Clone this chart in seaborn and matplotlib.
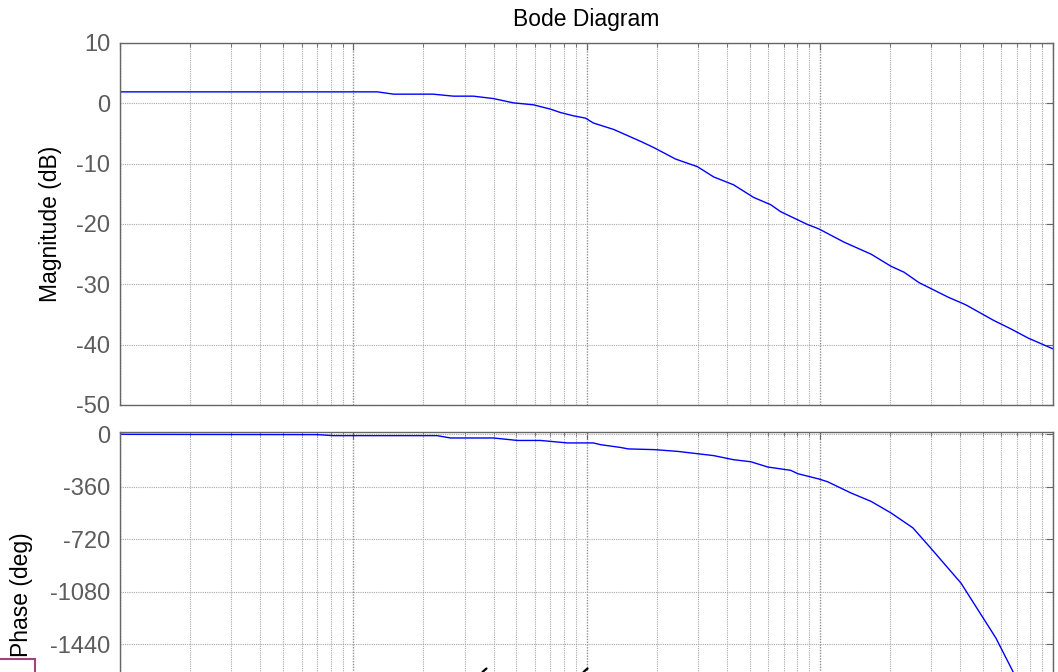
import matplotlib
matplotlib.use("Agg")
import matplotlib.pyplot as plt
import matplotlib.ticker as mticker
from matplotlib.patches import Rectangle
from matplotlib.lines import Line2D
import pandas as pd
import seaborn as sns

sns.set_style("white")
plt.rcParams["font.family"] = ["Liberation Sans", "DejaVu Sans"]
plt.rcParams["axes.unicode_minus"] = False

# ---- data (frequency in rad/s) ----
mag_freq = [0.1, 0.879, 1.27, 1.49, 2.20, 2.69, 3.27, 3.99, 4.86, 5.93, 7.00,
            7.73, 8.79, 9.9, 10.7, 13.1, 17.1, 19.4, 24.1, 29.9, 35.1, 42.7,
            52.1, 61.6, 68.0, 88.8, 99, 127, 166, 202, 230, 266, 354, 423,
            558, 661, 782, 1000]
mag_db = [1.9, 1.9, 1.9, 1.52, 1.52, 1.19, 1.19, 0.79, 0.08, -0.25, -0.96,
          -1.52, -2.07, -2.45, -3.26, -4.34, -6.32, -7.32, -9.24, -10.5, -12.2,
          -13.5, -15.6, -16.8, -17.96, -20.1, -20.8, -23.0, -25.0, -27.0, -28.0,
          -29.7, -32.1, -33.4, -36.0, -37.4, -38.9, -40.7]

phase_freq = [0.1, 0.110, 0.700, 0.821, 2.29, 2.61, 3.99, 5.06, 6.35, 8.28,
              10.7, 11.5, 14.0, 15.1, 19.6, 24.6, 35.1, 42.7, 50.6, 59.8, 75.1,
              80.5, 99, 108, 136, 166, 202, 251, 299, 403, 569, 673, 766]
phase_deg = [0, -1, -3, -10, -10, -26, -26, -43, -43, -60, -60, -72, -91,
             -101, -106, -118, -147, -175, -189, -225, -248, -271, -307, -326,
             -403, -461, -540, -643, -781, -1021, -1398, -1627, -1830]

mag_ticks = [10, 0, -10, -20, -30, -40, -50]
phase_ticks = [0, -360, -720, -1080, -1440]

mag_df = pd.DataFrame({"freq": mag_freq, "mag": mag_db})
phase_df = pd.DataFrame({"freq": phase_freq, "phase": phase_deg})

W, H = 1058, 672
fig = plt.figure(figsize=(W / 100, H / 100), dpi=100)

ax_mag = fig.add_axes([120 / W, 1 - 405 / H, 933 / W, 362 / H])
# bottom axes runs past the lower edge of the picture (cropped view)
ax_ph = fig.add_axes([120 / W, 1 - 432 / H - 264.6 / H, 933 / W, 264.6 / H])

grid_kw = dict(color="#a8a8a8", linestyle=(0, (1, 1)), linewidth=0.8)

for ax in (ax_mag, ax_ph):
    ax.set_xscale("log")
    ax.set_xlim(0.1, 1000)
    ax.xaxis.set_major_locator(mticker.LogLocator(base=10, numticks=10))
    ax.xaxis.set_minor_locator(mticker.LogLocator(base=10, subs=range(2, 10), numticks=10))
    ax.xaxis.set_major_formatter(mticker.NullFormatter())
    ax.xaxis.set_minor_formatter(mticker.NullFormatter())
    ax.grid(True, which="minor", axis="x", **grid_kw)
    ax.grid(True, which="major", axis="x", color="#909090",
            linestyle=(0, (1, 1)), linewidth=1.0)
    ax.grid(True, which="major", axis="y", **grid_kw)
    ax.tick_params(which="both", direction="in", top=True, right=True,
                   color="#666666", labelcolor="#5c5c5c", labelsize=17, pad=7)
    ax.tick_params(which="major", length=5)
    ax.tick_params(which="minor", length=3)
    for sp in ax.spines.values():
        sp.set_color("#666666")
        sp.set_linewidth(1.0)

sns.lineplot(data=mag_df, x="freq", y="mag", ax=ax_mag, color="#0000ff",
             linewidth=1.0, estimator=None)
ax_mag.set_ylim(-50, 10)
ax_mag.set_yticks(mag_ticks)
ax_mag.set_xlabel("")
ax_mag.set_ylabel("Magnitude (dB)", fontsize=16.5, color="black")
ax_mag.yaxis.set_label_coords(-0.062, 0.5)
ax_mag.set_title("Bode Diagram", fontsize=16.5, color="black", pad=12)

sns.lineplot(data=phase_df, x="freq", y="phase", ax=ax_ph, color="#0000ff",
             linewidth=1.0, estimator=None)
ax_ph.set_ylim(-1800, 15)
ax_ph.set_yticks(phase_ticks)
ax_ph.set_xlabel("")
ax_ph.set_ylabel("Phase (deg)", fontsize=16.5, color="black")
ax_ph.yaxis.set_label_coords(-0.093, 0.384)

# small bits of other figure elements cut off at the lower edge
fig.patches.append(Rectangle((-0.01, -0.05), 0.01 + 35 / W, 0.05 + 13 / H,
                             transform=fig.transFigure, fill=False,
                             edgecolor="#a0457a", linewidth=1.5))
for xc in (484, 585):
    fig.add_artist(Line2D([(xc - 1.5) / W, (xc + 2.5) / W], [0.0, 3.5 / H],
                          transform=fig.transFigure, color="black", linewidth=1.6))

fig.savefig("out.png", dpi=100)
